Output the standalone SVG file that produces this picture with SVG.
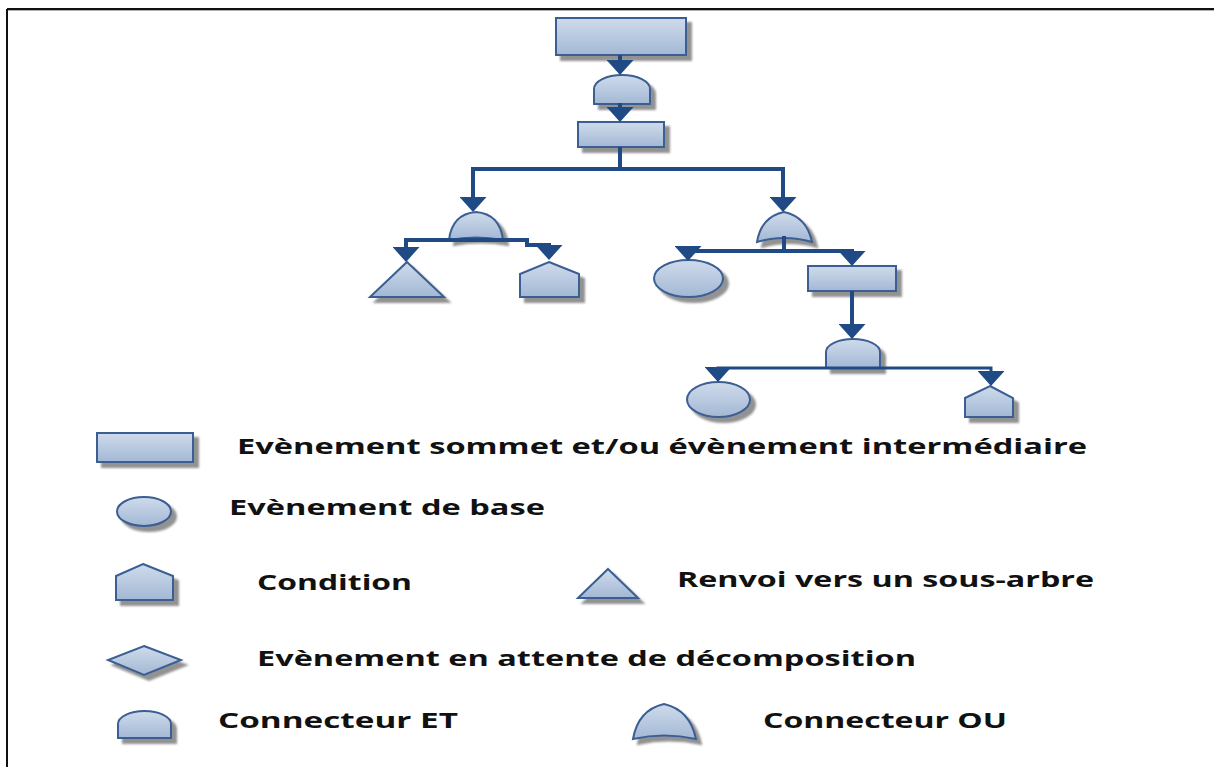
<svg xmlns="http://www.w3.org/2000/svg" width="1214" height="767" viewBox="0 0 1214 767">
  <style>
    .shape { fill: url(#blueFill); stroke: #3b5e93; stroke-width: 2; filter: url(#shadow); }
    .wire { fill: none; stroke: #1f4a85; stroke-width: 4; stroke-linejoin: miter; marker-end: url(#arrow); }
    .thin { stroke-width: 3; }
    .label { font-family: "Open Sans", "DejaVu Sans", sans-serif; font-weight: bold; font-size: 22px; fill: #111; }
  </style>
  <defs>
    <linearGradient id="blueFill" x1="0" y1="0" x2="0" y2="1">
      <stop offset="0" stop-color="#cfdbeb"/>
      <stop offset="1" stop-color="#a3b8d5"/>
    </linearGradient>
    <filter id="shadow" x="-20%" y="-20%" width="150%" height="160%">
      <feDropShadow dx="5" dy="5" stdDeviation="1.2" flood-color="#7f7f7f" flood-opacity="0.85"/>
    </filter>
    <marker id="arrow" viewBox="0 0 15 27" refX="7" refY="13.5" markerWidth="15" markerHeight="27" markerUnits="userSpaceOnUse" orient="auto">
      <path d="M0,0 L15,13.5 L0,27 Z" fill="#1f4a85"/>
    </marker>
  </defs>

  <rect width="1214" height="767" fill="#ffffff"/>

  <!-- page frame (top and left edges) -->
  <g id="frame">
    <line x1="7" y1="9" x2="1214" y2="9" stroke="#111" stroke-width="2"/>
    <line x1="8" y1="10.5" x2="1214" y2="10.5" stroke="#b0b0b0" stroke-width="1"/>
    <line x1="7" y1="9" x2="7" y2="767" stroke="#111" stroke-width="2"/>
  </g>

  <!-- fault tree -->
  <g id="top-event"><rect class="shape" x="556" y="18" width="130" height="37"/></g>
  <g id="and-gate-1"><path class="shape" d="M594,104 V89 A28,14 0 0 1 650,89 V104 Z"/></g>
  <g id="intermediate-1"><rect class="shape" x="578" y="122" width="86" height="25"/></g>
  <g id="or-gate-left"><path class="shape" d="M449,240 Q452,214 476,212 Q500,214 503,240 Q476,235 449,240 Z"/></g>
  <g id="or-gate-right"><path class="shape" d="M757,242 Q761,217 784,212 Q807,217 812,242 Q784,234 757,242 Z"/></g>
  <g id="transfer-1"><polygon class="shape" points="407,262 444,297 370,297"/></g>
  <g id="condition-1"><polygon class="shape" points="549,262 579,274 579,297 520,297 520,274"/></g>
  <g id="basic-event-1"><ellipse class="shape" cx="688.5" cy="278.5" rx="34.5" ry="18.5"/></g>
  <g id="intermediate-2"><rect class="shape" x="808" y="266" width="88" height="25"/></g>
  <g id="and-gate-2"><path class="shape" d="M826,368 V352 A27,13 0 0 1 880,352 V368 Z"/></g>
  <g id="basic-event-2"><ellipse class="shape" cx="718.5" cy="399.5" rx="31.5" ry="17.5"/></g>
  <g id="condition-2"><polygon class="shape" points="990,386 1013,398 1013,417 965,417 965,398"/></g>

  <!-- connectors -->
  <g id="connectors">
    <path class="wire" d="M620,55 V67"/>
    <path class="wire" d="M620,103 V114"/>
    <path class="wire" d="M620,147 V169 H473 V204"/>
    <path class="wire" d="M620,169 H783 V204"/>
    <path class="wire" d="M473,240 H406 V254"/>
    <path class="wire" d="M473,240 H527 V245 H549 V252"/>
    <path class="wire" d="M784,236 V251 H688 V253"/>
    <path class="wire" d="M784,251 H852 V258"/>
    <path class="wire" d="M852,291 V331"/>
    <path class="wire thin" d="M853,368 H718 V374"/>
    <path class="wire thin" d="M853,368 H991 V378"/>
  </g>

  <!-- legend -->
  <g id="legend-event">
    <rect class="shape" x="97" y="433" width="96" height="29"/>
    <text class="label" x="237" y="454" textLength="850" lengthAdjust="spacingAndGlyphs">Evènement sommet et/ou évènement intermédiaire</text>
  </g>
  <g id="legend-basic">
    <ellipse class="shape" cx="144" cy="511.5" rx="27" ry="14.5"/>
    <text class="label" x="229" y="515" textLength="316" lengthAdjust="spacingAndGlyphs">Evènement de base</text>
  </g>
  <g id="legend-condition">
    <polygon class="shape" points="143,564 173,576 173,600 116,600 116,576"/>
    <text class="label" x="257" y="590" textLength="155" lengthAdjust="spacingAndGlyphs">Condition</text>
  </g>
  <g id="legend-transfer">
    <polygon class="shape" points="608,569 638,598 578,598"/>
    <text class="label" x="677" y="587" textLength="417" lengthAdjust="spacingAndGlyphs">Renvoi vers un sous-arbre</text>
  </g>
  <g id="legend-undeveloped">
    <polygon class="shape" points="144,646 181,660 144,675 108,660"/>
    <text class="label" x="257" y="666" textLength="659" lengthAdjust="spacingAndGlyphs">Evènement en attente de décomposition</text>
  </g>
  <g id="legend-and">
    <path class="shape" d="M118,738 V724 A26.5,13 0 0 1 171,724 V738 Z"/>
    <text class="label" x="218" y="728" textLength="240" lengthAdjust="spacingAndGlyphs">Connecteur ET</text>
  </g>
  <g id="legend-or">
    <path class="shape" d="M633,739 Q638,710 664,704 Q690,710 696,739 Q664,732 633,739 Z"/>
    <text class="label" x="763" y="728" textLength="244" lengthAdjust="spacingAndGlyphs">Connecteur OU</text>
  </g>
</svg>
